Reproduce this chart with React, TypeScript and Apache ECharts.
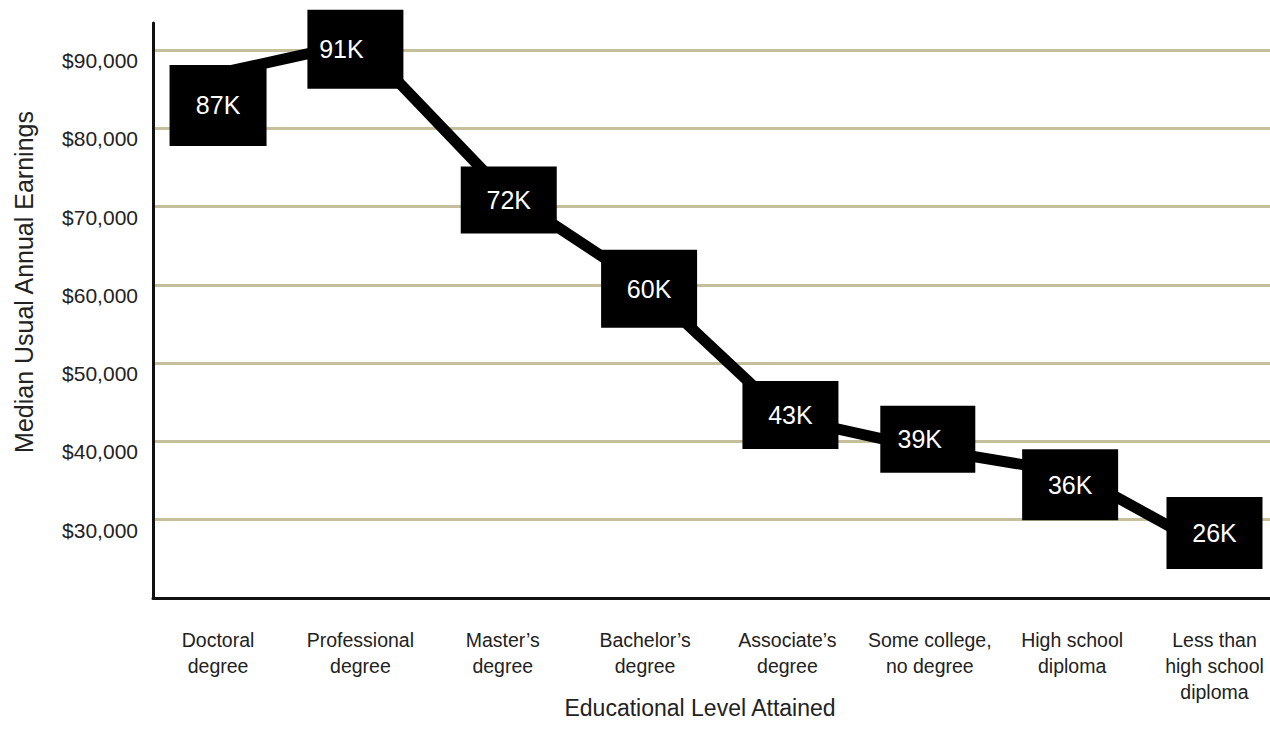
import React, { useEffect, useRef } from 'react';
import * as echarts from 'echarts';

// ---- Data ----
const categories = [
  'Doctoral\ndegree',
  'Professional\ndegree',
  'Master’s\ndegree',
  'Bachelor’s\ndegree',
  'Associate’s\ndegree',
  'Some college,\nno degree',
  'High school\ndiploma',
  'Less than\nhigh school\ndiploma',
];
const earnings = [87000, 91000, 72000, 60000, 43000, 39000, 36000, 26000];

// ---- Box layout (styling only) ----
const boxSizes = [[97, 81], [96, 79], [96, 67], [96, 78], [96, 68], [95, 67], [96, 71], [96, 72]];
const boxOffsets = [[0, 32], [-5, 7], [6, 9], [4, 4], [3, -3], [-2, -10], [-2, 12], [0, -18]];
const labelShifts = [[0, 0], [-14, 0], [0, 0], [0, 0], [0, 0], [-8, 0], [0, 0], [0, 0]];

const FONT = "'Liberation Sans', Arial, sans-serif";

export default function App() {
  const ref = useRef<HTMLDivElement>(null);

  useEffect(() => {
    document.body.style.margin = '0';
    if (!ref.current) return;
    const chart = echarts.init(ref.current, undefined, { renderer: 'svg' });

    const seriesData = earnings.map((v, i) => ({
      value: [i, v],
      symbolSize: boxSizes[i],
      symbolOffset: boxOffsets[i],
      label: { offset: labelShifts[i] },
    }));

    chart.setOption({
      animation: false,
      backgroundColor: '#ffffff',
      grid: { left: 153, right: 0, top: 23, bottom: 147, containLabel: false },
      xAxis: {
        type: 'value',
        min: -0.457,
        max: 7.39,
        axisLine: { show: true, onZero: false, lineStyle: { color: '#111', width: 3 } },
        axisTick: { show: false },
        splitLine: { show: false },
        axisLabel: {
          customValues: categories.map((_, i) => i),
          formatter: (v: number) => categories[Math.round(v)] ?? '',
          fontFamily: FONT,
          fontSize: 19.5,
          lineHeight: 26,
          color: '#222',
          margin: 29,
          align: 'center',
          verticalAlign: 'top',
        },
      },
      yAxis: {
        type: 'value',
        min: 20000,
        max: 93450,
        interval: 10000,
        axisLine: { show: true, onZero: false, lineStyle: { color: '#111', width: 3 } },
        axisTick: { show: false },
        splitLine: {
          show: true,
          showMinLine: false,
          showMaxLine: false,
          lineStyle: { color: '#c6bf9c', width: 3 },
        },
        axisLabel: {
          showMinLabel: false,
          showMaxLabel: false,
          formatter: (v: number) => '$' + v.toLocaleString('en-US'),
          fontFamily: FONT,
          fontSize: 21,
          lineHeight: 21,
          color: '#222',
          margin: 15,
          verticalAlign: 'top',
        },
      },
      graphic: [
        {
          type: 'text',
          x: 24,
          y: 282,
          rotation: Math.PI / 2,
          style: {
            text: 'Median Usual Annual Earnings',
            fontFamily: FONT,
            fontSize: 25,
            fill: '#222',
            align: 'center',
            verticalAlign: 'middle',
          },
        },
        {
          type: 'text',
          x: 700,
          y: 708,
          style: {
            text: 'Educational Level Attained',
            fontFamily: FONT,
            fontSize: 23,
            fill: '#222',
            align: 'center',
            verticalAlign: 'middle',
          },
        },
      ],
      series: [
        {
          type: 'line',
          data: seriesData,
          symbol: 'rect',
          showAllSymbol: true,
          lineStyle: { color: '#000', width: 11 },
          itemStyle: { color: '#000' },
          label: {
            show: true,
            position: 'inside',
            color: '#fff',
            fontFamily: FONT,
            fontSize: 25,
            formatter: (p: any) => Math.round(p.value[1] / 1000) + 'K',
          },
          emphasis: { disabled: true },
        },
      ],
    });

    return () => chart.dispose();
  }, []);

  return <div ref={ref} style={{ width: 1270, height: 745 }} />;
}
